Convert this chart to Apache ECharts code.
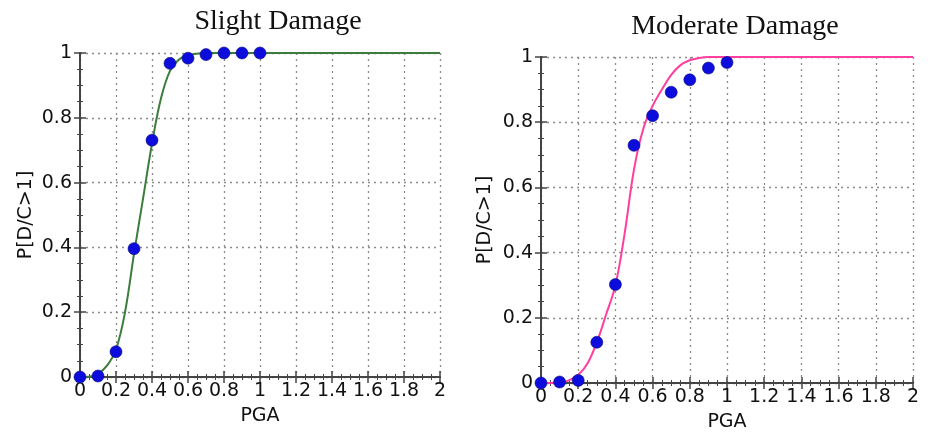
<!DOCTYPE html>
<html>
<head>
<meta charset="utf-8">
<script src="https://cdn.jsdelivr.net/npm/echarts@6/dist/echarts.min.js"></script>
<style>
  html, body { margin: 0; padding: 0; background: #fff; }
  #main { width: 931px; height: 437px; }
</style>
</head>
<body>
<div id="main"></div>
<script>
// fragility curves, slight / moderate damage
var pgaPoints = [0, 0.1, 0.2, 0.3, 0.4, 0.5, 0.6, 0.7, 0.8, 0.9, 1.0];
var slightPoints = [0, 0.003, 0.078, 0.396, 0.731, 0.968, 0.984, 0.995, 1.0, 1.0, 1.0];
var moderatePoints = [0, 0.003, 0.008, 0.125, 0.302, 0.729, 0.82, 0.892, 0.93, 0.966, 0.983];

var curveX = [0, 0.05, 0.1, 0.15, 0.2, 0.25, 0.3, 0.35, 0.4, 0.45, 0.5, 0.55, 0.6, 0.65, 0.7, 0.75, 0.8, 0.85, 0.9, 1.0, 2.0];
var slightCurve = [0, 0.001, 0.01, 0.035, 0.085, 0.2, 0.38, 0.55, 0.72, 0.86, 0.945, 0.98, 0.994, 0.998, 1, 1, 1, 1, 1, 1, 1];
var moderateCurve = [0, 0, 0.002, 0.008, 0.025, 0.06, 0.125, 0.21, 0.3, 0.46, 0.655, 0.78, 0.85, 0.9, 0.945, 0.975, 0.99, 0.997, 1, 1, 1];

var xTicks = ['0', '0.2', '0.4', '0.6', '0.8', '1', '1.2', '1.4', '1.6', '1.8', '2'];
var yTicks = ['0', '0.2', '0.4', '0.6', '0.8', '1'];

function pairs(xs, ys) {
    return xs.map(function (x, i) { return [x, ys[i]]; });
}

var frame = { show: true, lineStyle: { color: '#444', width: 2 } };
var tickFont = { fontFamily: 'DejaVu Sans', fontSize: 19, color: '#111' };
var gridLine = { color: '#8c8c8c', type: [2, 4], width: 1.3 };

function xAx(grid, pos, main) {
    return {
        type: 'value', gridIndex: grid, position: pos, min: 0, max: 2, interval: 0.2,
        axisLine: frame,
        axisTick: { show: true, inside: true, length: 6, lineStyle: { color: '#444', width: 1.5 } },
        minorTick: { show: true, splitNumber: 4, length: 3, lineStyle: { color: '#444', width: 1 } },
        axisLabel: main ? Object.assign({ margin: 5, formatter: function (v) {
            return xTicks[Math.round(v / 0.2)];
        } }, tickFont) : { show: false },
        splitLine: { show: main, lineStyle: gridLine },
        name: main ? 'PGA' : '', nameLocation: 'middle', nameGap: 30,
        nameTextStyle: tickFont
    };
}

function yAx(grid, pos, main, gap) {
    return {
        type: 'value', gridIndex: grid, position: pos, min: 0, max: 1, interval: 0.2,
        axisLine: frame,
        axisTick: { show: true, inside: true, length: 6, lineStyle: { color: '#444', width: 1.5 } },
        minorTick: { show: true, splitNumber: 4, length: 3, lineStyle: { color: '#444', width: 1 } },
        axisLabel: main ? Object.assign({ margin: 8, formatter: function (v) {
            return yTicks[Math.round(v / 0.2)];
        } }, tickFont) : { show: false },
        splitLine: { show: main, lineStyle: gridLine },
        name: main ? 'P[D/C>1]' : '', nameLocation: 'middle', nameGap: gap,
        nameTextStyle: tickFont
    };
}

var dom = document.getElementById('main');
var myChart = echarts.init(dom);

var option = {
    backgroundColor: '#fff',
    animation: false,
    title: [
        { text: 'Slight Damage', left: 273, top: 3, textAlign: 'center',
          textStyle: { fontFamily: 'Liberation Serif', fontSize: 28, fontWeight: 'normal', color: '#111' } },
        { text: 'Moderate Damage', left: 730, top: 8, textAlign: 'center',
          textStyle: { fontFamily: 'Liberation Serif', fontSize: 28, fontWeight: 'normal', color: '#111' } }
    ],
    grid: [
        { left: 80, top: 53, width: 360, height: 324 },
        { left: 541, top: 57, width: 372, height: 327 }
    ],
    xAxis: [xAx(0, 'bottom', true), xAx(0, 'top', false), xAx(1, 'bottom', true), xAx(1, 'top', false)],
    yAxis: [yAx(0, 'left', true, 44), yAx(0, 'right', false, 0), yAx(1, 'left', true, 46), yAx(1, 'right', false, 0)],
    series: [
        {
            name: 'slight fit', type: 'line', xAxisIndex: 0, yAxisIndex: 0,
            data: pairs(curveX, slightCurve), smooth: 0.4,
            showSymbol: false, lineStyle: { color: '#3c7c3c', width: 2 }, z: 3
        },
        {
            name: 'slight data', type: 'scatter', xAxisIndex: 0, yAxisIndex: 0,
            data: pairs(pgaPoints, slightPoints), symbolSize: 12,
            itemStyle: { color: '#0c0cdc', opacity: 1, borderColor: '#08087a', borderWidth: 0.6 }, z: 4
        },
        {
            name: 'moderate fit', type: 'line', xAxisIndex: 2, yAxisIndex: 2,
            data: pairs(curveX, moderateCurve), smooth: 0.4,
            showSymbol: false, lineStyle: { color: '#ff3fa0', width: 2 }, z: 3
        },
        {
            name: 'moderate data', type: 'scatter', xAxisIndex: 2, yAxisIndex: 2,
            data: pairs(pgaPoints, moderatePoints), symbolSize: 12,
            itemStyle: { color: '#0c0cdc', opacity: 1, borderColor: '#08087a', borderWidth: 0.6 }, z: 4
        }
    ]
};

if (option && typeof option === 'object') {
    myChart.setOption(option, true);
}
</script>
</body>
</html>
